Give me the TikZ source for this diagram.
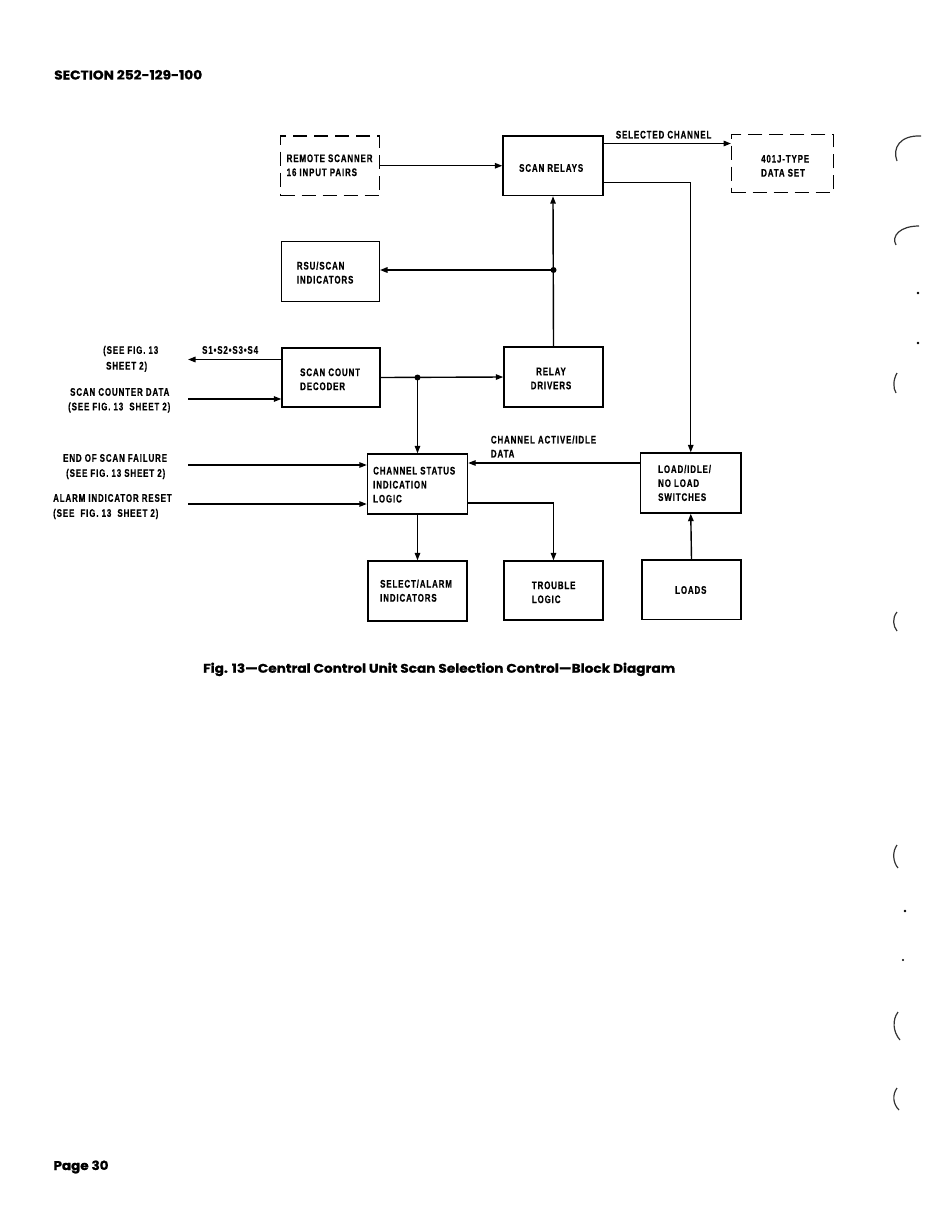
\documentclass[tikz,border=0pt]{standalone}
\usepackage{fontspec}
\usetikzlibrary{arrows.meta,calc}
\newfontfamily\lrfont{Liberation Sans}[FakeStretch=0.72,LetterSpace=8,FakeBold=0.5]
\newfontfamily\hdfont{Poppins}[FakeBold=1]
\begin{document}
\begin{tikzpicture}[x=1pt,y=-1pt,
  box/.style={draw, line width=1.4pt, rectangle, inner sep=0pt},
  dbox/.style={box, dash pattern=on 14pt off 7pt},
  lbl/.style={font=\lrfont\bfseries\fontsize{11}{14}\selectfont, inner sep=0pt, anchor=west, align=left},
  arr/.style={line width=1.4pt, -{Triangle[length=7.5pt,width=5.5pt]}},
  wire/.style={line width=1.4pt},
  dot/.style={circle, fill, inner sep=0pt, minimum size=6pt},
  hdr/.style={anchor=base west, inner sep=0pt},
  artifact/.style={line width=1.2pt, black!80}]
\useasboundingbox (0,0) rectangle (950,1229);

% headers
\node[hdr] (hd) at (54,79.5) {\resizebox{148pt}{9.5pt}{\hdfont\bfseries SECTION 252-129-100}};
\node[hdr] (cap) at (203,672.7) {\resizebox{472pt}{10pt}{\hdfont\bfseries Fig. 13—Central Control Unit Scan Selection Control—Block Diagram}};
\node[hdr] (pg) at (53.3,1170) {\resizebox{55pt}{9.5pt}{\hdfont\bfseries Page 30}};

% boxes
\node[dbox, minimum width=99pt, minimum height=59.5pt] (rs) at (330,165.75) {};
\node[box, minimum width=100pt, minimum height=59.5pt] (sr) at (553,165.75) {};
\node[dbox, minimum width=101.6pt, minimum height=58.4pt] (ds) at (782.5,163.5) {};
\node[box, minimum width=97.6pt, minimum height=60pt] (rsu) at (330.5,271.7) {};
\node[box, minimum width=98pt, minimum height=59pt] (scd) at (331,377.5) {};
\node[box, minimum width=99pt, minimum height=60pt] (rd) at (553.5,377) {};
\node[box, minimum width=100pt, minimum height=60pt] (cs) at (417.5,484) {};
\node[box, minimum width=100.5pt, minimum height=60pt] (li) at (690.75,483) {};
\node[box, minimum width=99pt, minimum height=60pt] (sa) at (417.5,591) {};
\node[box, minimum width=99pt, minimum height=59pt] (tl) at (553.5,590.5) {};
\node[box, minimum width=99pt, minimum height=59.5pt] (ld) at (691.5,589.75) {};

% box texts
\node[lbl] (trs) at (286.5,165.3) {REMOTE SCANNER\\16 INPUT PAIRS};
\node[lbl] (tsr) at (519,168) {SCAN RELAYS};
\node[lbl] (tds) at (761,165.8) {401J-TYPE\\DATA SET};
\node[lbl] (trsu) at (296.7,272.6) {RSU/SCAN\\INDICATORS};
\node[lbl] (tscd) at (300,379.3) {SCAN COUNT\\DECODER};
\node[lbl, anchor=center, align=center] (trd) at (551,378.5) {RELAY\\DRIVERS};
\node[lbl] (tcs) at (373,484.7) {CHANNEL STATUS\\INDICATION\\LOGIC};
\node[lbl] (tli) at (658,483) {LOAD/IDLE/\\NO LOAD\\SWITCHES};
\node[lbl] (tsa) at (380,590.7) {SELECT/ALARM\\INDICATORS};
\node[lbl] (ttl) at (531.7,592.3) {TROUBLE\\LOGIC};
\node[lbl] (tld) at (675,590) {LOADS};

% connector labels
\node[lbl] (tsel) at (615.7,134.7) {SELECTED CHANNEL};
\node[lbl] (ts14) at (202,350) {S1•S2•S3•S4};
\node[lbl] (tcai) at (490.7,446.5) {CHANNEL ACTIVE/IDLE\\DATA};

% left labels
\node[lbl] (l1a) at (103,351) {(SEE FIG. 13};
\node[lbl] (l1b) at (106,366.7) {SHEET 2)};
\node[lbl] (l2a) at (70,392) {SCAN COUNTER DATA};
\node[lbl] (l2b) at (68,407.5) {(SEE FIG. 13\ \ SHEET 2)};
\node[lbl] (l3a) at (63,458) {END OF SCAN FAILURE};
\node[lbl] (l3b) at (66,474) {(SEE FIG. 13 SHEET 2)};
\node[lbl] (l4a) at (53,498) {ALARM INDICATOR RESET};
\node[lbl] (l4b) at (53,514) {(SEE\ \ FIG. 13\ \ SHEET 2)};

% junctions and free ends
\node[dot] (j1) at (553.5,270) {};
\node[dot] (j2) at (417.5,377.5) {};
\coordinate (sc) at ([yshift=22.25pt]sr.east);
\coordinate (sl) at ([yshift=-16.75pt]sr.east);
\coordinate (s14) at (188,359.5);
\coordinate (scdin) at (188,399);
\coordinate (eos) at (188,465);
\coordinate (air) at (188,504);
\coordinate (ca) at ([yshift=20pt]li.west);
\coordinate (ct) at ([yshift=-19pt]cs.east);

% connectors
\draw[arr] (rs.east) -- (sr.west);
\draw[arr] (sc) -- (sc -| ds.west);
\draw[arr] (sl) -| (li.north);
\draw[arr] (rd.north) -- (sr.south);
\draw[arr] (j1.center) -- (j1 -| rsu.east);
\draw[arr] (scd.east) -- (rd.west);
\draw[arr] (j2.center) -- (cs.north);
\draw[arr] (s14 -| scd.west) -- (s14);
\draw[arr] (scdin) -- (scdin -| scd.west);
\draw[arr] (eos) -- (eos -| cs.west);
\draw[arr] (air) -- (air -| cs.west);
\draw[arr] (ca) -- (ca -| cs.east);
\draw[arr] (cs.south) -- (sa.north);
\draw[arr] (ct) -| (tl.north);
\draw[arr] (ld.north) -- (li.south);

% margin marks
\draw[artifact] (921,136) .. controls (900,135) and (892,148) .. (897,161);
\draw[artifact] (919,226) .. controls (900,226) and (891,236) .. (896,245);
\draw[artifact] (897,373) .. controls (893,380) and (893,388) .. (896,393);
\draw[artifact] (897,612) .. controls (892,618) and (893,626) .. (897,631);
\draw[artifact] (897,845) .. controls (892,852) and (893,862) .. (898,868);
\draw[artifact] (898,1012) .. controls (892,1020) and (893,1032) .. (900,1040);
\draw[artifact] (897,1088) .. controls (892,1095) and (893,1104) .. (899,1110);
\fill (918,293) circle (1.3pt);
\fill (918,343) circle (1.3pt);
\fill (905,911) circle (1.3pt);
\fill (903,960) circle (1.1pt);
\end{tikzpicture}
\end{document}
